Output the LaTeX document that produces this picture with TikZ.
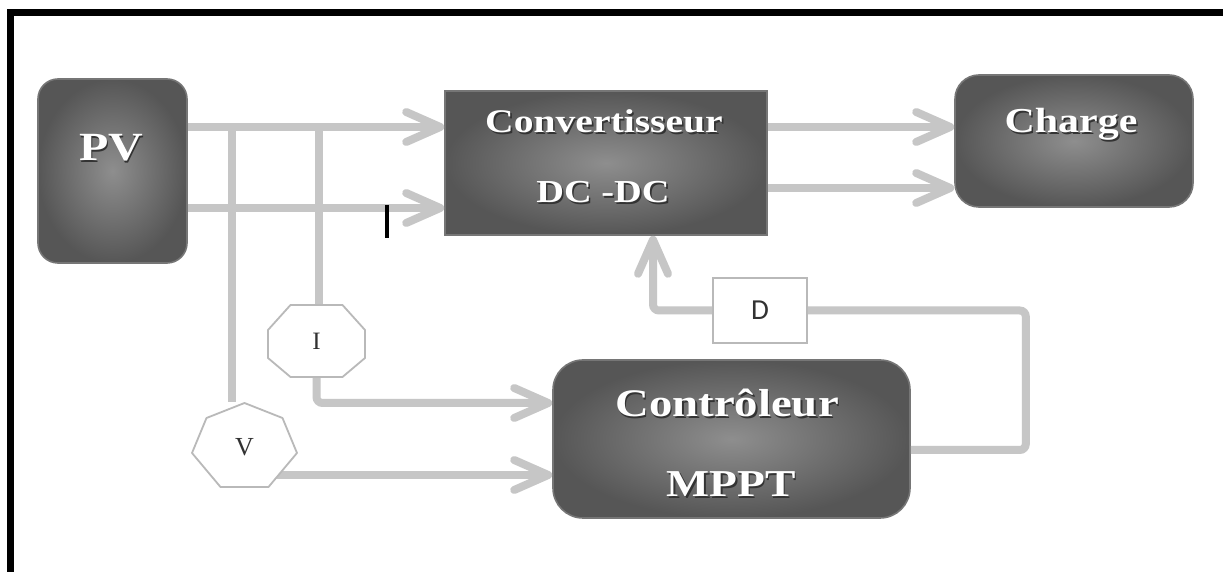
\documentclass[tikz,border=0pt]{standalone}
\usepackage{fontspec}
\setmainfont{Liberation Serif}
\newfontfamily\embfont[FakeStretch=1.2]{Liberation Serif}
\newfontfamily\dfont{Carlito}
\usetikzlibrary{arrows.meta}
\definecolor{boxin}{RGB}{142,142,142}
\definecolor{boxout}{RGB}{86,86,86}
\definecolor{boxedge}{RGB}{118,118,118}
\definecolor{wire}{RGB}{198,198,198}
\definecolor{sensline}{RGB}{185,185,185}
\definecolor{labtext}{RGB}{50,50,50}
\newcommand\emb[2]{{\fontsize{#1}{#1}\selectfont\embfont\bfseries\rlap{\hspace{0.8pt}\raisebox{-0.8pt}{\color{black!80}#2}}{\color{white}#2}}}
\begin{document}
\begin{tikzpicture}[x=0.5pt, y=-0.5pt,
  blockbox/.style={draw=boxedge, line width=0.8pt, inner color=boxin, outer color=boxout, inner sep=0pt},
  wireline/.style={draw=wire, line width=4pt},
  wirearrow/.style={wireline, -{Straight Barb[length=17pt, width=15pt, round]}},
  sensor/.style={draw=sensline, line width=0.9pt, fill=white, line join=round},
  labelnode/.style={inner sep=0pt, text=labtext}]
\useasboundingbox (0,0) rectangle (1223,572);
\fill[white] (0,0) rectangle (1223,572);
% frame (top and left only)
\fill[black] (7,9) rectangle (1223,16);
\fill[black] (7,9) rectangle (14,572);

% blocks
\node[blockbox, rounded corners=10pt, minimum width=74.5pt, minimum height=92pt] (PV) at (112.5,171) {};
\node[blockbox, minimum width=161pt, minimum height=72pt] (Conv) at (606,163) {};
\node[blockbox, rounded corners=12pt, minimum width=119pt, minimum height=66pt] (Charge) at (1074,141) {};
\node[blockbox, rounded corners=15pt, minimum width=178.5pt, minimum height=79pt] (Ctrl) at (731.5,439) {};

% block texts
\node[inner sep=0pt] (PVt) at (111,149) {\emb{20pt}{PV}};
\node[inner sep=0pt] (Convt1) at (604,122) {\emb{16.5pt}{Convertisseur}};
\node[inner sep=0pt] (Convt2) at (603,193) {\emb{16pt}{DC -DC}};
\node[inner sep=0pt] (Charget) at (1071,125) {\emb{17.5pt}{Charge}};
\node[inner sep=0pt] (Ctrlt1) at (727,404) {\emb{19.5pt}{Contrôleur}};
\node[inner sep=0pt] (Ctrlt2) at (731,485) {\emb{19pt}{MPPT}};

% sensor placeholders
\node[minimum width=48.5pt, minimum height=36pt, inner sep=0pt] (I) at (316.5,341) {};
\node[minimum width=52.5pt, minimum height=42.5pt, inner sep=0pt] (V) at (244.5,445) {};
\node[draw=sensline, line width=0.9pt, fill=white, minimum width=47pt, minimum height=32.5pt, inner sep=0pt] (D) at (760,310.5) {};

% junction coordinates
\coordinate (ta) at (232,127);
\coordinate (tb) at (319,127);
\coordinate (lo) at (232,208);
\coordinate (ro) at (800,188);
\coordinate (tk) at (387,205);

% wires
\draw[wirearrow] (PV.east |- ta) -- (Conv.west |- ta);
\draw[wirearrow] (PV.east |- lo) -- (Conv.west |- lo);
\draw[wireline] (ta) -- (ta |- V.north);
\draw[wireline] (tb) -- (tb |- I.north);
\draw[wirearrow, rounded corners=3pt] (I.south) |- ([yshift=18pt]Ctrl.west);
\draw[wirearrow] ([yshift=-15pt]V.center) -- ([yshift=-15pt]V.center -| Ctrl.west);
\draw[wireline, rounded corners=3pt] ([yshift=-5.5pt]Ctrl.east) -- ++(115,0) |- (D.east);
\draw[wirearrow, rounded corners=3pt] (D.west) -| ([xshift=23.5pt]Conv.south);
\draw[wirearrow] (Conv.east |- ta) -- (Charge.west |- ta);
\draw[wirearrow] (Conv.east |- ro) -- (Charge.west |- ro);
\draw[black, line width=1.8pt] (tk) -- ++(0,33);

% sensor shapes
\draw[sensor, shift={(I.center)}] (-26,-36) -- (26,-36) -- (48.5,-11) -- (48.5,17) -- (26,36) -- (-26,36) -- (-48.5,17) -- (-48.5,-11) -- cycle;
\draw[sensor, shift={(V.center)}] (0,-42) -- (38,-27) -- (52.5,8) -- (24,42) -- (-24,42) -- (-52.5,8) -- (-38,-27) -- cycle;
\node[labelnode, font=\fontsize{12.5pt}{12.5pt}\selectfont] (It) at (I.center) {I};
\node[labelnode, font=\fontsize{13pt}{13pt}\selectfont] (Vt) at ([yshift=-1pt]V.center) {V};
\node[labelnode, font=\dfont\fontsize{14.5pt}{14.5pt}\selectfont] (Dt) at (D.center) {D};
\end{tikzpicture}
\end{document}
